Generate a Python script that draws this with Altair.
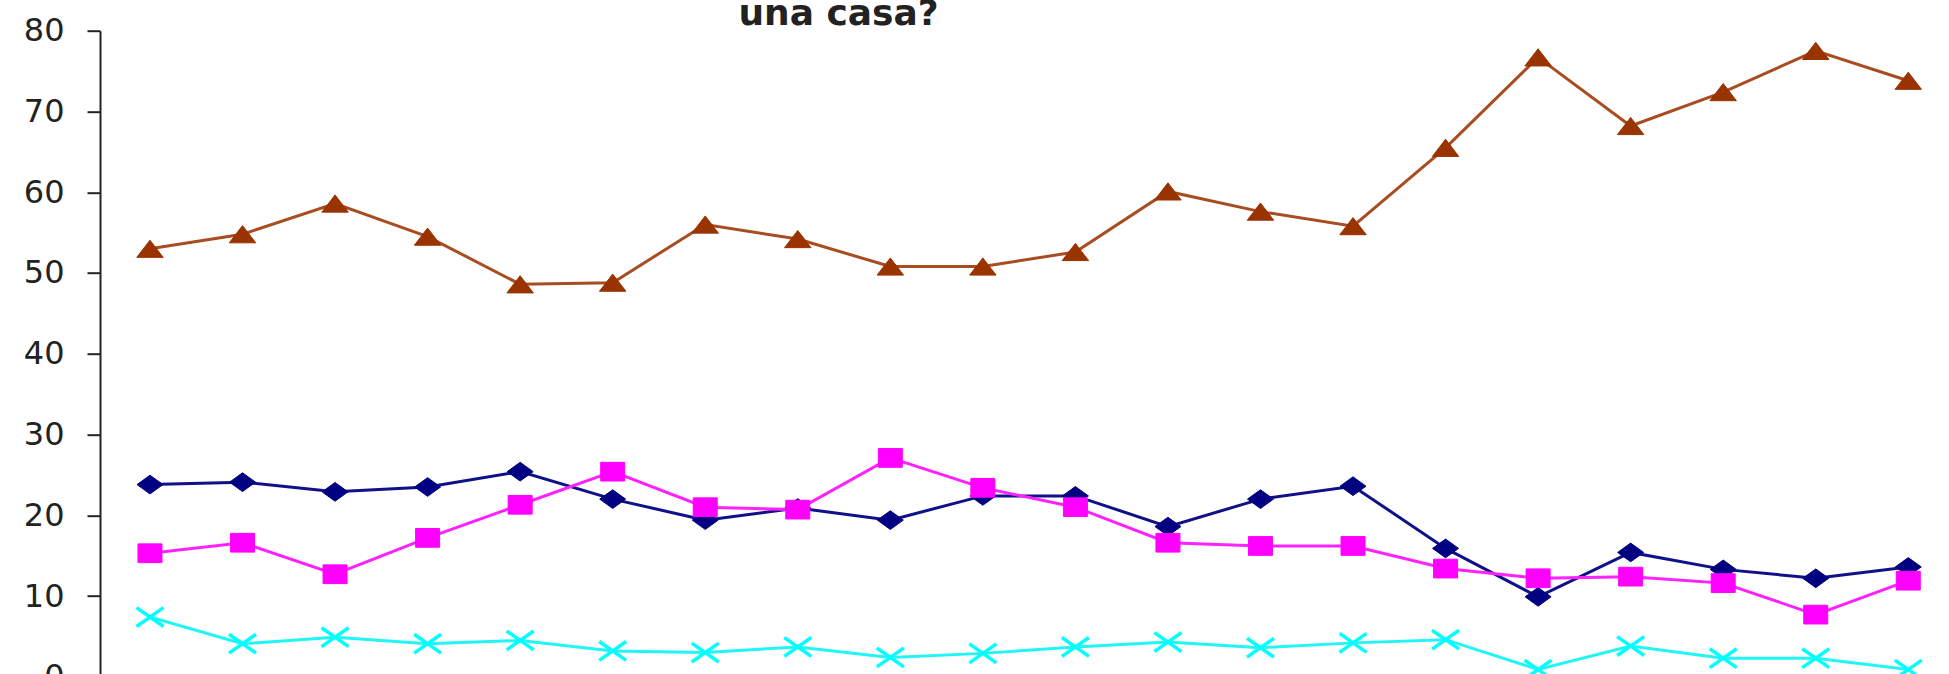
import altair as alt
import pandas as pd

# Survey waves (category positions along the x axis)
periodos = list(range(1, 21))

serie_azul = [23.8, 24.1, 22.9, 23.5, 25.4, 22.0, 19.4, 20.9, 19.4, 22.4,
              22.4, 18.6, 22.0, 23.6, 15.9, 9.9, 15.4, 13.3, 12.2, 13.6]
serie_rosa = [15.3, 16.6, 12.7, 17.2, 21.3, 25.4, 21.0, 20.7, 27.1, 23.4,
              21.0, 16.6, 16.2, 16.2, 13.4, 12.2, 12.4, 11.6, 7.7, 11.9]
serie_marron = [53.0, 54.8, 58.6, 54.5, 48.6, 48.8, 56.0, 54.2, 50.8, 50.8,
                52.6, 60.1, 57.6, 55.8, 65.5, 76.7, 68.2, 72.4, 77.5, 73.8]
serie_cian = [7.4, 4.1, 4.9, 4.1, 4.5, 3.2, 3.0, 3.7, 2.4, 2.9,
              3.7, 4.3, 3.6, 4.2, 4.6, 0.9, 3.8, 2.3, 2.3, 0.9]

titulo = "una casa?"

series = {
    "azul": serie_azul,
    "rosa": serie_rosa,
    "marron": serie_marron,
    "cian": serie_cian,
}

rows = []
for nombre, valores in series.items():
    for p, v in zip(periodos, valores):
        rows.append({"serie": nombre, "periodo": p, "valor": v})
df = pd.DataFrame(rows)

# Marker paths in the unit box [-1, 1]; slightly wider than tall
TRIANGULO = "M0,-0.65L1,0.65L-1,0.65Z"
ROMBO = "M0,-0.72L1,0L0,0.72L-1,0Z"
CUADRADO = "M-1,-0.78L1,-0.78L1,0.78L-1,0.78Z"
ASPA = "M-1,-0.7L1,0.7M-1,0.7L1,-0.7"

estilos = {
    "azul": dict(color="#000080", line="#101088", shape=ROMBO, size=676, filled=True),
    "rosa": dict(color="#FF00FF", line="#FF22FF", shape=CUADRADO, size=576, filled=True),
    "marron": dict(color="#993300", line="#A84C22", shape=TRIANGULO, size=700, filled=True),
    "cian": dict(color="#00FFFF", line="#22F5F5", shape=ASPA, size=729, filled=False),
}

x_enc = alt.X("periodo:Q", scale=alt.Scale(domain=[0.46, 20.44], nice=False, zero=False),
              axis=None)
y_enc = alt.Y(
    "valor:Q",
    scale=alt.Scale(domain=[0, 80], nice=False, zero=False),
    axis=alt.Axis(
        values=[0, 10, 20, 30, 40, 50, 60, 70, 80],
        title=None,
        grid=False,
        domainColor="#222222",
        domainWidth=2,
        tickColor="#222222",
        tickWidth=2,
        tickSize=13,
        labelPadding=23,
        labelFont="DejaVu Sans",
        labelFontSize=32,
        labelColor="#222222",
    ),
)

capas = []
for nombre, st in estilos.items():
    base = alt.Chart(df).transform_filter(alt.datum.serie == nombre)
    linea = base.mark_line(color=st["line"], strokeWidth=3).encode(x=x_enc, y=y_enc)
    if st["filled"]:
        punto = base.mark_point(
            shape=st["shape"], size=st["size"], filled=True,
            fill=st["color"], stroke=st["color"], strokeWidth=1, opacity=1,
        ).encode(x=x_enc, y=y_enc)
    else:
        punto = base.mark_point(
            shape=st["shape"], size=st["size"], filled=False,
            stroke=st["color"], strokeWidth=3.5, opacity=1,
        ).encode(x=x_enc, y=y_enc)
    capas.extend([linea, punto])

# Last line of the chart heading, sitting just above the plot
encabezado = alt.Chart(pd.DataFrame({"t": [titulo]})).mark_text(
    font="DejaVu Sans",
    fontSize=36,
    fontWeight="bold",
    color="#222222",
    align="center",
    baseline="alphabetic",
).encode(text="t:N", x=alt.value(738.5), y=alt.value(-5.7))

chart = alt.layer(*capas, encabezado).properties(
    width=1849,
    height=646.1,
    padding={"left": 100, "top": 30.7, "right": 0, "bottom": 0},
    autosize=alt.AutoSizeParams(type="none"),
).configure_view(stroke=None)

chart.save("out.html", embed_options={"renderer": "svg", "actions": False})
